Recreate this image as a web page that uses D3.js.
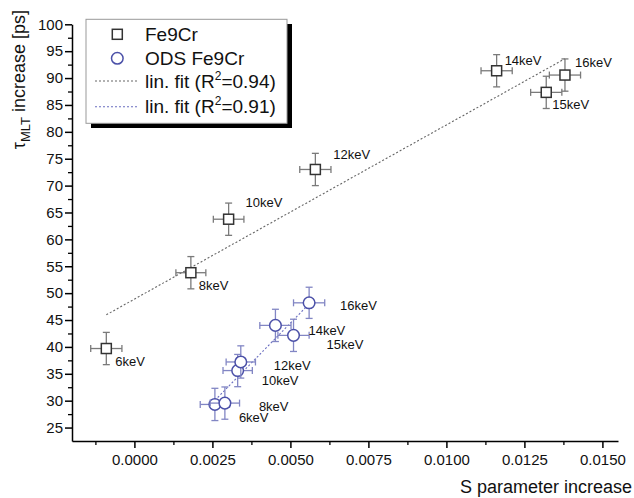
<!DOCTYPE html>
<html><head><meta charset="utf-8">
<script src="https://cdn.jsdelivr.net/npm/d3@7"></script>
<style>
body{margin:0;background:#fff;}
text{font-family:"Liberation Sans",Arial,sans-serif;}
</style></head>
<body><svg id="c" width="634" height="498"></svg>
<script>
// ---- data ----
const energies = ["6keV","8keV","10keV","12keV","14keV","15keV","16keV"];
const feX = [-0.0009, 0.00181, 0.00302, 0.0058, 0.01161, 0.0132, 0.0138];
const feY = [39.7, 53.8, 63.75, 73.0, 91.36, 87.34, 90.56];
const feXErr = [0.0005, 0.00048, 0.00049, 0.0005, 0.0005, 0.0005, 0.0005];
const feYErr = [3.0, 3.0, 3.0, 3.0, 3.0, 3.0, 3.0];
const odsX = [0.00258, 0.0029, 0.00331, 0.00341, 0.00452, 0.0051, 0.0056];
const odsY = [29.3, 29.55, 35.6, 37.2, 44.0, 42.15, 48.2];
const odsXErr = [0.00047, 0.00047, 0.00047, 0.00047, 0.0005, 0.0005, 0.0005];
const odsYErr = [3.0, 3.0, 3.0, 3.0, 3.0, 3.0, 2.9];
const feFit = [[-0.0009, 45.97], [0.0138, 93.6]];
const odsFit = [[0.00258, 30.06], [0.0056, 47.99]];
const seriesNames = ["Fe9Cr", "ODS Fe9Cr"];
const fitNames = ["0.94", "0.91"];
const xTicks = [0, 0.0025, 0.005, 0.0075, 0.01, 0.0125, 0.015];
const yTicks = [25,30,35,40,45,50,55,60,65,70,75,80,85,90,95,100];

// label offsets (pixels) for annotations
const feLabelOff = [[9,17],[8,17],[17,-12],[18,-10],[8,-6],[6,16.5],[10,-8]];
const odsLabelOff = [[24,18],[34,7.5],[24,14.5],[33,8],[33,9.5],[33,13.5],[31,7.5]];

const svg = d3.select("#c");
const x = d3.scaleLinear().domain([-0.002, 0.0155]).range([72, 618]);
const y = d3.scaleLinear().domain([22.5, 100]).range([441, 24.3]);

const FE = "#333", FE_ERR = "#7a7a7a", ODS = "#4b50a8", ODS_ERR = "#8286c4";

// axes
const xMinor = d3.range(-0.00125, 0.0155, 0.0025);
svg.append("g").attr("transform","translate(0,441)")
  .call(d3.axisBottom(x).tickValues(xMinor).tickSize(4).tickFormat("").tickSizeOuter(0))
  .call(g=>g.select(".domain").remove())
  .selectAll("line").attr("stroke","#000").attr("stroke-width",1.3);
const gx = svg.append("g").attr("transform","translate(0,441)")
  .call(d3.axisBottom(x).tickValues(xTicks).tickSize(7).tickPadding(6).tickSizeOuter(0).tickFormat(d3.format(".4f")));
gx.select(".domain").attr("stroke","#000").attr("stroke-width",1.5);
gx.selectAll("line").attr("stroke","#000").attr("stroke-width",1.5);
gx.selectAll("text").attr("font-size",15).attr("fill","#111");

const yMinor = d3.range(27.5, 100, 5);
svg.append("g").attr("transform","translate(72,0)")
  .call(d3.axisLeft(y).tickValues(yMinor).tickSize(4).tickFormat("").tickSizeOuter(0))
  .call(g=>g.select(".domain").remove())
  .selectAll("line").attr("stroke","#000").attr("stroke-width",1.3);
const gy = svg.append("g").attr("transform","translate(72,0)")
  .call(d3.axisLeft(y).tickValues(yTicks).tickSize(7).tickPadding(2).tickSizeOuter(0).tickFormat(d3.format("d")));
gy.select(".domain").attr("stroke","#000").attr("stroke-width",1.5);
gy.selectAll("line").attr("stroke","#000").attr("stroke-width",1.5);
gy.selectAll("text").attr("font-size",15).attr("fill","#111");

// axis titles
svg.append("text").attr("x",632).attr("y",493).attr("text-anchor","end")
  .attr("font-size",18).attr("fill","#111").text("S parameter increase");
const yt = svg.append("text").attr("transform","translate(25,10) rotate(-90)")
  .attr("text-anchor","end").attr("font-size",18).attr("fill","#111");
yt.append("tspan").text("τ");
yt.append("tspan").attr("font-size",13).attr("dy",5).text("MLT");
yt.append("tspan").attr("dy",-5).text(" increase [ps]");

// fit lines
const line = d3.line().x(d=>x(d[0])).y(d=>y(d[1]));
svg.append("path").attr("d",line(feFit)).attr("fill","none").attr("stroke","#666")
  .attr("stroke-width",1.1).attr("stroke-dasharray","2,2");
svg.append("path").attr("d",line(odsFit)).attr("fill","none").attr("stroke","#6a6ec0")
  .attr("stroke-width",1.1).attr("stroke-dasharray","2,2");

function drawSeries(xs, ys, xe, ye, errColor, markColor, shape, offs){
  const data = xs.map((v,i)=>({x:v,y:ys[i],xe:xe[i],ye:ye[i],e:energies[i],o:offs[i]}));
  const g = svg.append("g");
  const cap = 3.5;
  data.forEach(d=>{
    const px=x(d.x), py=y(d.y);
    const eg = g.append("g").attr("stroke",errColor).attr("stroke-width",1.3);
    eg.append("line").attr("x1",px).attr("x2",px).attr("y1",y(d.y-d.ye)).attr("y2",y(d.y+d.ye));
    eg.append("line").attr("x1",px-cap).attr("x2",px+cap).attr("y1",y(d.y-d.ye)).attr("y2",y(d.y-d.ye));
    eg.append("line").attr("x1",px-cap).attr("x2",px+cap).attr("y1",y(d.y+d.ye)).attr("y2",y(d.y+d.ye));
    eg.append("line").attr("x1",x(d.x-d.xe)).attr("x2",x(d.x+d.xe)).attr("y1",py).attr("y2",py);
    eg.append("line").attr("x1",x(d.x-d.xe)).attr("x2",x(d.x-d.xe)).attr("y1",py-cap).attr("y2",py+cap);
    eg.append("line").attr("x1",x(d.x+d.xe)).attr("x2",x(d.x+d.xe)).attr("y1",py-cap).attr("y2",py+cap);
    if(shape==="square"){
      g.append("rect").attr("x",px-5).attr("y",py-5).attr("width",10).attr("height",10)
        .attr("fill","#fff").attr("stroke",markColor).attr("stroke-width",1.5);
    } else {
      g.append("circle").attr("cx",px).attr("cy",py).attr("r",5.8)
        .attr("fill","#fff").attr("stroke",markColor).attr("stroke-width",1.5);
    }
  });
  data.forEach(d=>{
    g.append("text").attr("x",x(d.x)+d.o[0]).attr("y",y(d.y)+d.o[1])
      .attr("font-size",13).attr("fill","#111").text(d.e);
  });
}
drawSeries(feX, feY, feXErr, feYErr, FE_ERR, FE, "square", feLabelOff);
drawSeries(odsX, odsY, odsXErr, odsYErr, ODS_ERR, ODS, "circle", odsLabelOff);

// legend
const lg = svg.append("g");
lg.append("rect").attr("x",91).attr("y",24).attr("width",201).attr("height",104).attr("fill","#000");
lg.append("rect").attr("x",86).attr("y",19.3).attr("width",201).attr("height",104)
  .attr("fill","#fff").attr("stroke","#999").attr("stroke-width",1);
lg.append("rect").attr("x",112.3).attr("y",29.3).attr("width",10).attr("height",10)
  .attr("fill","#fff").attr("stroke",FE).attr("stroke-width",1.5);
lg.append("circle").attr("cx",117.3).attr("cy",58.3).attr("r",5.8)
  .attr("fill","#fff").attr("stroke",ODS).attr("stroke-width",1.5);
lg.append("line").attr("x1",95).attr("x2",139).attr("y1",81).attr("y2",81)
  .attr("stroke","#666").attr("stroke-width",1.1).attr("stroke-dasharray","2,2");
lg.append("line").attr("x1",95).attr("x2",139).attr("y1",106.7).attr("y2",106.7)
  .attr("stroke","#6a6ec0").attr("stroke-width",1.1).attr("stroke-dasharray","2,2");
const ly = [34.3, 58.3, 81, 106.7];
seriesNames.forEach((n,i)=>{
  lg.append("text").attr("x",145).attr("y",ly[i]+6.5).attr("font-size",19).attr("fill","#111").text(n);
});
fitNames.forEach((r,i)=>{
  const t = lg.append("text").attr("x",145).attr("y",ly[i+2]+6.5).attr("font-size",19).attr("fill","#111");
  t.append("tspan").text("lin. fit (R");
  t.append("tspan").attr("font-size",12).attr("dy",-8).text("2");
  t.append("tspan").attr("dy",8).text("="+r+")");
});
</script></body></html>
